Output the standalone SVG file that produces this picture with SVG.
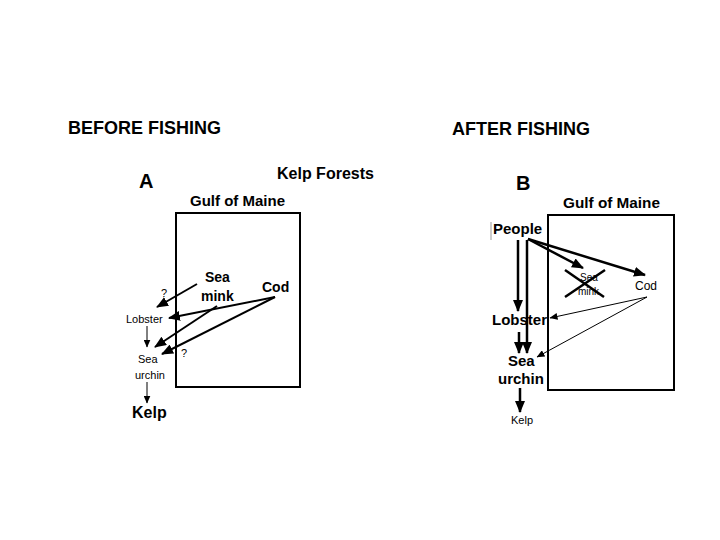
<svg xmlns="http://www.w3.org/2000/svg" width="720" height="540" viewBox="0 0 720 540">
<style>
text{font-family:"Liberation Sans",Arial,sans-serif;fill:#000}
.h{font-size:18px;font-weight:bold}
.let{font-size:20px;font-weight:bold}
.b{font-weight:bold}
.box{fill:none;stroke:#000;stroke-width:2}
.thick{stroke:#000;stroke-width:2.5;fill:none}
.med{stroke:#000;stroke-width:2;fill:none}
.thin{stroke:#000;stroke-width:1;fill:none}
</style>
<defs>
<marker id="ah" markerUnits="userSpaceOnUse" markerWidth="12" markerHeight="10" refX="11" refY="5" orient="auto"><path d="M0,0 L12,5 L0,10 Z" fill="#000"/></marker>
<marker id="as" markerUnits="userSpaceOnUse" markerWidth="8" markerHeight="7" refX="7.5" refY="3.5" orient="auto"><path d="M0,0 L8,3.5 L0,7 Z" fill="#000"/></marker>
</defs>
<rect width="720" height="540" fill="#fff"/>

<g id="panelA">
<text class="h" x="68" y="134">BEFORE FISHING</text>
<text class="let" x="139" y="188">A</text>
<text class="b" x="277" y="179" font-size="16">Kelp Forests</text>
<g id="gulfA">
<text class="b" x="190" y="206" font-size="14" textLength="95" lengthAdjust="spacingAndGlyphs">Gulf of Maine</text>
<rect class="box" x="176" y="213" width="124" height="174"/>
</g>
<g id="seaminkA"><text class="b" x="205" y="282" font-size="14">Sea</text><text class="b" x="201" y="301" font-size="14">mink</text></g>
<g id="codA"><text class="b" x="262" y="292" font-size="14">Cod</text></g>
<g id="lobsterA"><text x="126" y="323" font-size="11">Lobster</text></g>
<g id="urchinA"><text x="138" y="363" font-size="11">Sea</text><text x="135" y="379" font-size="11">urchin</text></g>
<g id="kelpA"><text class="b" x="132" y="418" font-size="16">Kelp</text></g>
<text x="161" y="297" font-size="11">?</text>
<text x="181" y="357" font-size="11">?</text>
</g>

<g id="connectorsA">
<line class="med" x1="197" y1="284" x2="157" y2="307" marker-end="url(#ah)"/>
<line class="med" x1="275" y1="297" x2="169" y2="318" marker-end="url(#ah)"/>
<line class="med" x1="217" y1="306" x2="155" y2="347" marker-end="url(#ah)"/>
<line class="med" x1="275" y1="297" x2="162" y2="354" marker-end="url(#ah)"/>
<line class="thin" x1="147" y1="326" x2="147" y2="347" marker-end="url(#as)"/>
<line class="thin" x1="147" y1="382" x2="147" y2="403" marker-end="url(#as)"/>
</g>

<g id="panelB">
<text class="h" x="452" y="135">AFTER FISHING</text>
<text class="let" x="516" y="190">B</text>
<g id="gulfB">
<text class="b" x="563" y="208" font-size="14" textLength="97" lengthAdjust="spacingAndGlyphs">Gulf of Maine</text>
<rect class="box" x="548" y="215" width="126" height="175"/>
</g>
<g id="peopleB"><line x1="491" y1="222" x2="491" y2="240" stroke="#999" stroke-width="1"/><text class="b" x="493" y="234" font-size="15">People</text></g>
<g id="seaminkB"><text x="580" y="281" font-size="10" fill="#555">Sea</text><text x="578" y="295" font-size="10" fill="#555">mink</text>
<line class="thick" x1="565" y1="270" x2="604" y2="297"/><line class="thick" x1="565" y1="297" x2="605" y2="270"/></g>
<g id="codB"><text x="635" y="290" font-size="12">Cod</text></g>
<g id="lobsterB"><text class="b" x="492" y="325" font-size="15">Lobster</text></g>
<g id="urchinB"><text class="b" x="508" y="366" font-size="15">Sea</text><text class="b" x="498" y="384" font-size="15">urchin</text></g>
<g id="kelpB"><text x="511" y="424" font-size="11">Kelp</text></g>
</g>

<g id="connectorsB">
<line class="thick" x1="528" y1="239" x2="583" y2="268" marker-end="url(#ah)"/>
<line class="thick" x1="528" y1="239" x2="645" y2="275" marker-end="url(#ah)"/>
<line class="thick" x1="518" y1="240" x2="518" y2="311" marker-end="url(#ah)"/>
<line class="thick" x1="527" y1="240" x2="527" y2="353" marker-end="url(#ah)"/>
<line class="thick" x1="519" y1="332" x2="519" y2="353" marker-end="url(#ah)"/>
<line class="thin" x1="647" y1="297" x2="550" y2="318" marker-end="url(#as)"/>
<line class="thin" x1="647" y1="297" x2="537" y2="357" marker-end="url(#as)"/>
<line class="thick" x1="520" y1="388" x2="520" y2="412" marker-end="url(#ah)"/>
</g>
</svg>
